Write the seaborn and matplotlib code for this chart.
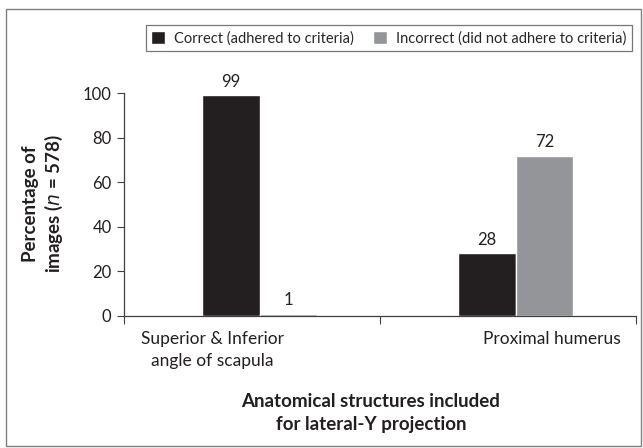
import matplotlib
matplotlib.use("Agg")
import matplotlib.pyplot as plt
import seaborn as sns
import pandas as pd
from matplotlib.patches import Rectangle

"""
Data
"""
structures = ["Superior & Inferior\nangle of scapula", "Proximal humerus"]
correct = [99, 28]
incorrect = [1, 72]
series_names = ["Correct (adhered to criteria)", "Incorrect (did not adhere to criteria)"]
yticks = [0, 20, 40, 60, 80, 100]

df = pd.DataFrame({
    "structure": structures * 2,
    "pct": correct + incorrect,
    "group": [series_names[0]] * 2 + [series_names[1]] * 2,
})

"""
Plot
"""
sns.set_style("white")
plt.rcParams["font.family"] = ["Lato", "DejaVu Sans"]

fig = plt.figure(figsize=(6.43, 4.48), dpi=100)
ax = fig.add_axes([0.193, 0.295, 0.796, 0.497])

palette = {series_names[0]: "#231f20", series_names[1]: "#939598"}
sns.barplot(data=df, x="structure", y="pct", hue="group", palette=palette,
            width=0.45, ax=ax, saturation=1, legend=True)

for c in ax.containers:
    ax.bar_label(c, fontsize=12, padding=4, color="#231f20")

ax.set_ylim(0, 100)
ax.set_xlim(-0.53, 1.47)
ax.set_yticks(yticks)
ax.tick_params(axis="y", labelsize=12, length=5, width=0.8, color="#404040",
               left=True, pad=4, labelcolor="#231f20")

# category boundary ticks like the original
ax.set_xticks([-0.53, 0.47, 1.47], minor=True)
ax.set_xticks([])
ax.tick_params(axis="x", which="minor", length=6, width=0.8, color="#404040", bottom=True)
ax.text(-0.185, -7, structures[0], ha="center", va="top", fontsize=12.5,
        color="#231f20", linespacing=1.4)
ax.text(1.14, -7, structures[1], ha="center", va="top", fontsize=12.5,
        color="#231f20")

for s in ["top", "right"]:
    ax.spines[s].set_visible(False)
ax.spines["left"].set_color("#404040")
ax.spines["bottom"].set_color("#404040")
ax.spines["left"].set_linewidth(0.9)
ax.spines["bottom"].set_linewidth(0.9)

ax.set_xlabel("")
ax.set_ylabel("")
fig.text(0.068, 0.545, "Percentage of\nimages ($\\mathit{n}$ = 578)", rotation=90,
         ha="center", va="center", fontsize=13.5, fontweight="bold",
         color="#231f20", linespacing=1.25)
fig.text(0.577, 0.078, "Anatomical structures included\nfor lateral-Y projection",
         ha="center", va="center", fontsize=13.5, fontweight="bold",
         color="#231f20", linespacing=1.4)

leg = ax.legend(loc="upper right", bbox_to_anchor=(639 / 643, 1 - 18 / 448),
                bbox_transform=fig.transFigure, ncol=2, frameon=True,
                fancybox=False, fontsize=10.5, handlelength=0.95, handleheight=0.95,
                handletextpad=0.6, columnspacing=1.3, borderpad=0.4)
leg.get_frame().set_edgecolor("#555555")
leg.get_frame().set_linewidth(0.9)

# outer border
fig.add_artist(Rectangle((6 / 643, 2 / 448), 635 / 643, 437 / 448, transform=fig.transFigure,
                         fill=False, edgecolor="#808080", linewidth=1.0))

plt.savefig("out.png", dpi=100)
